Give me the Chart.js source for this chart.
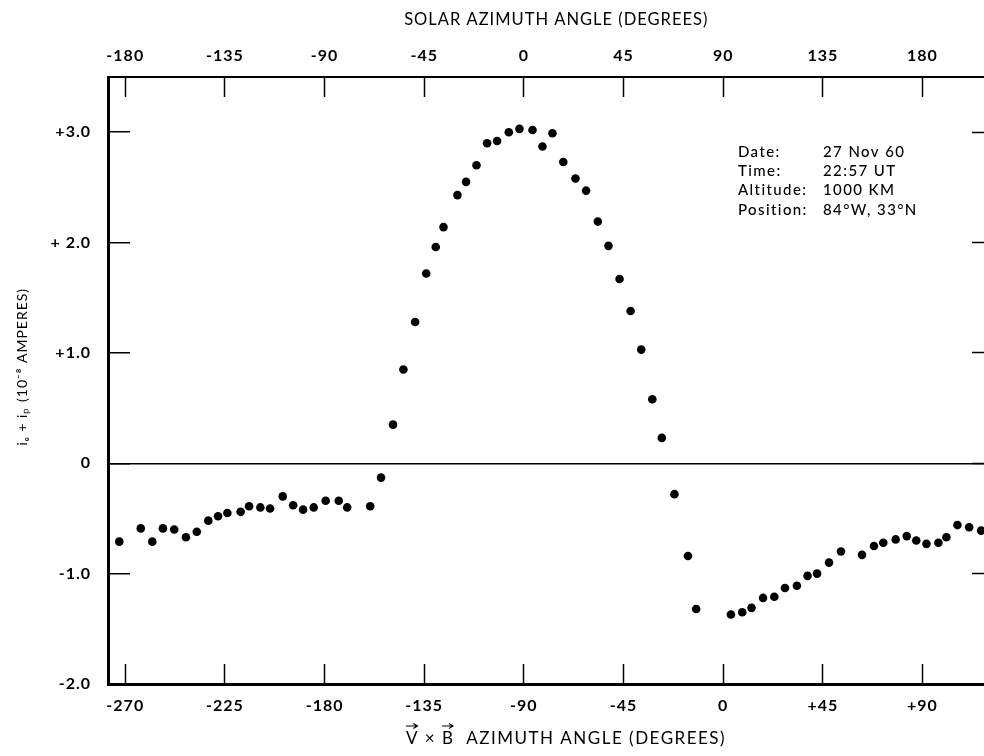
<!DOCTYPE html>
<html>
<head>
<meta charset="utf-8">
<script src="https://cdn.jsdelivr.net/npm/chart.js"></script>
<style>
  html, body { margin: 0; padding: 0; background: #fff; overflow: hidden; }
  #wrap { position: absolute; left: 0; top: 0; width: 1000px; height: 756px; }
</style>
</head>
<body>
<div id="wrap"><canvas id="chart" width="1000" height="756"></canvas></div>
<script>
// V x B azimuth angle (deg) and current (1e-8 A)
const vxbAngle = [
  -272.7, -263.0, -257.8, -253.0, -247.9, -242.6, -237.7, -232.5, -228.1, -223.9,
  -217.9, -214.1, -209.0, -204.6, -198.9, -194.2, -189.7, -184.9, -179.5, -173.6,
  -169.8, -159.4, -154.5, -149.1, -144.4, -139.1, -134.1, -129.8, -126.3, -120.0,
  -116.1, -111.4, -106.6, -102.1, -96.8, -92.0, -86.1, -81.6, -77.1, -72.2,
  -66.7, -61.9, -56.6, -51.8, -46.8, -41.8, -37.0, -32.0, -27.7, -22.0,
  -15.9, -12.2, 3.5, 8.6, 12.8, 18.0, 23.1, 27.9, 33.3, 38.1,
  42.4, 47.8, 53.2, 62.7, 68.1, 72.3, 77.9, 82.9, 87.2, 91.8,
  97.2, 100.8, 105.8, 111.1, 116.5
];
const current = [
  -0.71, -0.59, -0.71, -0.59, -0.60, -0.67, -0.62, -0.52, -0.48, -0.45,
  -0.44, -0.39, -0.40, -0.41, -0.30, -0.38, -0.42, -0.40, -0.34, -0.34,
  -0.40, -0.39, -0.13, 0.35, 0.85, 1.28, 1.72, 1.96, 2.14, 2.43,
  2.55, 2.70, 2.90, 2.92, 3.00, 3.03, 3.02, 2.87, 2.99, 2.73,
  2.58, 2.47, 2.19, 1.97, 1.67, 1.38, 1.03, 0.58, 0.23, -0.28,
  -0.84, -1.32, -1.37, -1.35, -1.31, -1.22, -1.21, -1.13, -1.11, -1.02,
  -1.00, -0.90, -0.80, -0.83, -0.75, -0.72, -0.69, -0.66, -0.70, -0.73,
  -0.72, -0.67, -0.56, -0.58, -0.61
];

const vxbTicks = [-270, -225, -180, -135, -90, -45, 0, 45, 90];
const vxbTickLabels = ['-270', '-225', '-180', '-135', '-90', '-45', '0', '+45', '+90'];
const solarTicks = [-180, -135, -90, -45, 0, 45, 90, 135, 180];
const solarTickLabels = ['-180', '-135', '-90', '-45', '0', '45', '90', '135', '180'];
const yTicks = [-2, -1, 0, 1, 2, 3];
const yTickLabels = ['-2.0', '-1.0', '0', '+1.0', '+ 2.0', '+3.0'];

const infoLabels = ['Date:', 'Time:', 'Altitude:', 'Position:'];
const infoValues = ['27 Nov 60', '22:57 UT', '1000 KM', '84\u00B0W, 33\u00B0N'];

// bottom title is drawn by hand so the vector arrows sit over V and B
const vxbTitleParts = ['V', ' \u00D7 ', 'B', '  AZIMUTH ANGLE (DEGREES)'];

const FONT = 'Lato';
const tickFont = { family: FONT, size: 16, weight: 'bold' };

// solar azimuth = V x B azimuth + 90
const SOLAR_OFFSET = 90;
const X_MIN = -277.8, X_MAX = 122.3;

function setTicks(values) {
    return (scale) => { scale.ticks = values.map(v => ({ value: v })); };
}

const spacing = {
    id: 'spacing',
    beforeDraw(chart) {
        chart.ctx.letterSpacing = '1px';
    }
};

function arrowOver(ctx, x1, x2, y) {
    ctx.beginPath();
    ctx.moveTo(x1, y);
    ctx.lineTo(x2, y);
    ctx.moveTo(x2 - 4, y - 2.5);
    ctx.lineTo(x2, y);
    ctx.lineTo(x2 - 4, y + 2.5);
    ctx.stroke();
}

const extras = {
    id: 'extras',
    afterDraw(chart) {
        const ctx = chart.ctx;
        ctx.save();
        ctx.fillStyle = '#000';
        ctx.strokeStyle = '#000';
        ctx.lineWidth = 1.2;
        ctx.textBaseline = 'middle';
        ctx.textAlign = 'left';

        ctx.letterSpacing = '1.4px';
        ctx.font = '500 15px ' + FONT;
        for (let i = 0; i < infoLabels.length; i++) {
            const y = 152 + i * 19.3;
            ctx.fillText(infoLabels[i], 738, y);
            ctx.fillText(infoValues[i], 823, y);
        }

        ctx.letterSpacing = '1.5px';
        ctx.font = '17px ' + FONT;
        const full = vxbTitleParts.join('');
        const x0 = 566 - ctx.measureText(full).width / 2;
        const y = 739;
        ctx.fillText(full, x0, y);
        const wV = ctx.measureText(vxbTitleParts[0]).width;
        const bStart = x0 + ctx.measureText(vxbTitleParts[0] + vxbTitleParts[1]).width;
        const wB = ctx.measureText(vxbTitleParts[2]).width;
        arrowOver(ctx, x0, x0 + wV - 1.5, y - 13);
        arrowOver(ctx, bStart, bStart + wB - 1.5, y - 13);
        ctx.restore();
    }
};

const points = vxbAngle.map((a, i) => ({ x: a, y: current[i] }));

new Chart(document.getElementById('chart'), {
    type: 'scatter',
    data: {
        datasets: [{
            data: points,
            backgroundColor: '#000',
            borderWidth: 0,
            pointRadius: 4.3,
            pointHoverRadius: 4.3
        }]
    },
    options: {
        responsive: false,
        devicePixelRatio: 1,
        animation: false,
        layout: { padding: 0 },
        plugins: { legend: { display: false }, tooltip: { enabled: false } },
        scales: {
            x: {
                type: 'linear', position: 'bottom', min: X_MIN, max: X_MAX,
                afterBuildTicks: setTicks(vxbTicks),
                afterFit: (s) => { s.height = 72; },
                ticks: {
                    autoSkip: false, maxRotation: 0, color: '#000', font: tickFont, padding: 32,
                    callback: (v, i) => vxbTickLabels[i]
                },
                grid: { drawOnChartArea: false, tickLength: -20, tickColor: '#000', tickWidth: 1.5 },
                border: { color: '#000', width: 3 }
            },
            x2: {
                type: 'linear', position: 'top', min: X_MIN + SOLAR_OFFSET, max: X_MAX + SOLAR_OFFSET,
                afterBuildTicks: setTicks(solarTicks),
                afterFit: (s) => { s.height = 77; },
                ticks: {
                    autoSkip: false, maxRotation: 0, color: '#000', font: tickFont, padding: 32,
                    callback: (v, i) => solarTickLabels[i]
                },
                grid: { drawOnChartArea: false, tickLength: -20, tickColor: '#000', tickWidth: 1.5 },
                border: { color: '#000', width: 2 },
                title: {
                    display: true, text: '  SOLAR AZIMUTH ANGLE (DEGREES)',
                    color: '#000', font: { family: FONT, size: 16.5 }, padding: { top: 10, bottom: 0 }
                }
            },
            y: {
                type: 'linear', position: 'left', min: -2, max: 3.5,
                afterBuildTicks: setTicks(yTicks),
                afterFit: (s) => { s.width = 108; },
                ticks: {
                    color: '#000', font: tickFont, padding: 39,
                    callback: (v, i) => yTickLabels[i]
                },
                grid: {
                    drawOnChartArea: true, tickLength: -22, tickColor: '#000', tickWidth: 1.5,
                    color: (c) => (c.tick && c.tick.value === 0 ? '#000' : 'rgba(0,0,0,0)'),
                    lineWidth: 1.5
                },
                border: { color: '#000', width: 3 },
                title: {
                    display: true, text: '      i\u2091 + i\u209A (10\u207B\u2078 AMPERES)',
                    color: '#000', font: { family: FONT, size: 14 }, padding: { top: 14, bottom: 0 }
                }
            },
            y2: {
                type: 'linear', position: 'right', min: -2, max: 3.5,
                afterBuildTicks: setTicks(yTicks),
                afterFit: (s) => { s.width = 6; },
                ticks: { display: false },
                grid: { drawOnChartArea: false, tickLength: -22, tickColor: '#000', tickWidth: 1.5 },
                border: { color: '#000', width: 2 }
            }
        }
    },
    plugins: [spacing, extras]
});
</script>
</body>
</html>
